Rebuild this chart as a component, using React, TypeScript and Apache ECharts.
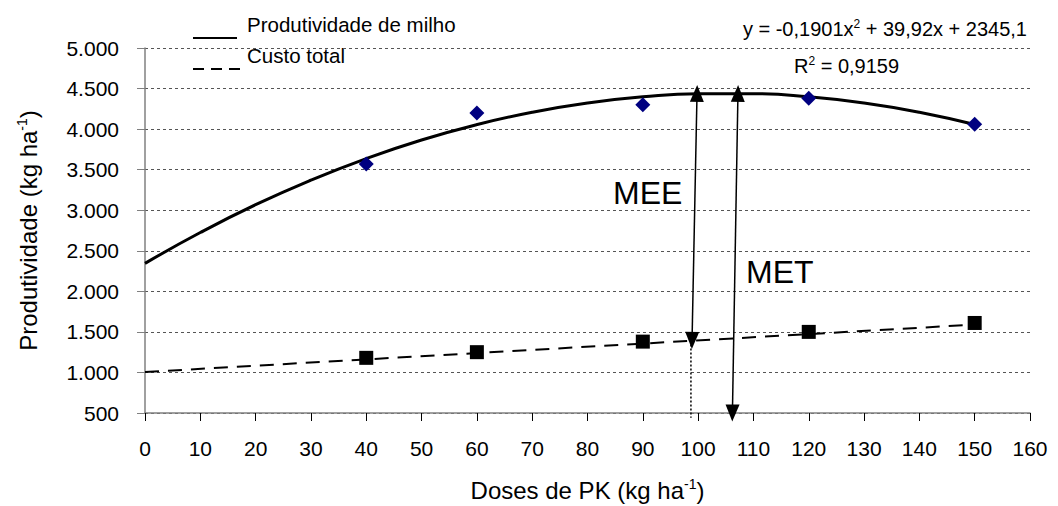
import React, { useEffect, useRef } from "react";
import * as echarts from "echarts";

const doses = [40, 60, 90, 120, 150];
const produtividade = [3570, 4200, 4300, 4380, 4060];
const custoTotal = [1180, 1250, 1380, 1500, 1610];
const trendX = [0, 10, 20, 30, 40, 50, 60, 70, 80, 90, 100, 110, 120, 130, 140, 150];
const trendY = [2345, 2725, 3068, 3371, 3637, 3866, 4056, 4208, 4322, 4398, 4436, 4436, 4398, 4322, 4208, 4056];
const costLineX = [0, 150];
const costLineY = [1005, 1590];
const meeX = [99.8, 98.9];
const meeY = [4440, 1395];
const metX = [107.2, 106.2];
const metY = [4440, 500];
const dropX = [98.7, 98.7];
const dropY = [1395, 440];

const FONT = "Liberation Sans";

function fmt(v: number) {
  if (v >= 1000) {
    const t = Math.floor(v / 1000);
    const r = v % 1000;
    return t + "." + String(r).padStart(3, "0");
  }
  return String(v);
}

export default function App() {
  const ref = useRef<HTMLDivElement>(null);
  useEffect(() => {
    if (!ref.current) return;
    const chart = echarts.init(ref.current, null, { renderer: "svg" });
    const sup = { fontSize: 14, fontFamily: FONT, color: "#000", verticalAlign: "top", padding: [0, 0, 12, 0] };
    const option: any = {
      animation: false,
      backgroundColor: "#fff",
      grid: { left: 145, right: 28, top: 48, bottom: 93, containLabel: false, outerBoundsMode: "none" },
      xAxis: {
        type: "value",
        min: 0,
        max: 160,
        interval: 10,
        name: "{a|Doses de PK (kg ha}{s|-1}{a|)}",
        nameLocation: "middle",
        nameGap: 64,
        nameTextStyle: {
          rich: {
            a: { fontSize: 24, fontFamily: FONT, color: "#000" },
            s: sup,
          },
        },
        axisLine: { show: true, lineStyle: { color: "#808080", width: 1.5 } },
        axisTick: { show: true, inside: false, length: 8, lineStyle: { color: "#000" } },
        axisLabel: { fontSize: 21, fontFamily: FONT, color: "#000", margin: 25 },
        splitLine: { show: false },
      },
      yAxis: {
        type: "value",
        min: 500,
        max: 5000,
        interval: 500,
        name: "{a|Produtividade (kg ha}{s|-1}{a|)}",
        nameLocation: "middle",
        nameGap: 104,
        nameRotate: 90,
        nameTextStyle: {
          rich: {
            a: { fontSize: 24, fontFamily: FONT, color: "#000" },
            s: sup,
          },
        },
        axisLine: { show: true, lineStyle: { color: "#808080", width: 1.5 } },
        axisTick: { show: true, inside: false, length: 8, lineStyle: { color: "#808080" } },
        axisLabel: { fontSize: 21, fontFamily: FONT, color: "#000", margin: 26, formatter: (v: number) => fmt(v) },
        splitLine: { show: true, lineStyle: { color: "#555", type: [3, 3], width: 1 } },
      },
      series: [
        {
          type: "line",
          data: trendX.map((x, i) => [x, trendY[i]]),
          smooth: true,
          showSymbol: false,
          lineStyle: { color: "#000", width: 3 },
          z: 3,
        },
        {
          type: "line",
          data: costLineX.map((x, i) => [x, costLineY[i]]),
          showSymbol: false,
          lineStyle: { color: "#000", width: 2, type: [14, 9] },
          z: 3,
        },
        {
          type: "line",
          data: dropX.map((x, i) => [x, dropY[i]]),
          showSymbol: false,
          clip: false,
          lineStyle: { color: "#000", width: 1.5, type: [2, 2] },
          z: 3,
        },
        {
          type: "scatter",
          data: doses.map((x, i) => [x, produtividade[i]]),
          symbol: "diamond",
          symbolSize: 15,
          itemStyle: { color: "#000080", opacity: 1 },
          z: 4,
        },
        {
          type: "scatter",
          data: doses.map((x, i) => [x, custoTotal[i]]),
          symbol: "rect",
          symbolSize: 14,
          itemStyle: { color: "#000", opacity: 1 },
          z: 4,
          markLine: {
            silent: true,
            symbol: ["triangle", "triangle"],
            symbolSize: [14, 17],
            label: { show: false },
            lineStyle: { color: "#000", width: 1.5, type: "solid", opacity: 1 },
            data: [
              [{ coord: [meeX[0], meeY[0]] }, { coord: [meeX[1], meeY[1]] }],
              [{ coord: [metX[0], metY[0]] }, { coord: [metX[1], metY[1]] }],
            ],
          },
        },
      ],
      graphic: [
        { type: "line", shape: { x1: 193, y1: 38, x2: 237, y2: 38 }, style: { stroke: "#000", lineWidth: 2 } },
        { type: "line", shape: { x1: 193, y1: 69, x2: 240, y2: 69 }, style: { stroke: "#000", lineWidth: 2, lineDash: [11, 7] } },
        {
          type: "text",
          left: 247,
          top: 14,
          style: { text: "Produtividade de milho", fontSize: 20.5, fontFamily: FONT, fill: "#000" },
        },
        {
          type: "text",
          left: 247,
          top: 45,
          style: { text: "Custo total", fontSize: 20.5, fontFamily: FONT, fill: "#000" },
        },
        {
          type: "text",
          right: 31,
          top: 18,
          style: {
            text: "{a|y = -0,1901x}{s|2}{a| + 39,92x + 2345,1}",
            rich: {
              a: { fontSize: 20, fontFamily: FONT, fill: "#000" },
              s: { fontSize: 12, fontFamily: FONT, fill: "#000", verticalAlign: "top", padding: [0, 0, 10, 0] },
            },
          },
        },
        {
          type: "text",
          left: 794,
          top: 55,
          style: {
            text: "{a|R}{s|2}{a| = 0,9159}",
            rich: {
              a: { fontSize: 20, fontFamily: FONT, fill: "#000" },
              s: { fontSize: 12, fontFamily: FONT, fill: "#000", verticalAlign: "top", padding: [0, 0, 10, 0] },
            },
          },
        },
        {
          type: "text",
          left: 613,
          top: 177,
          style: { text: "MEE", fontSize: 32, fontFamily: FONT, fill: "#000" },
        },
        {
          type: "text",
          left: 746,
          top: 256,
          style: { text: "MET", fontSize: 32, fontFamily: FONT, fill: "#000" },
        },
      ],
    };
    chart.setOption(option);
    return () => chart.dispose();
  }, []);
  return <div ref={ref} style={{ position: "absolute", left: 0, top: 0, width: 1058, height: 506 }} />;
}
